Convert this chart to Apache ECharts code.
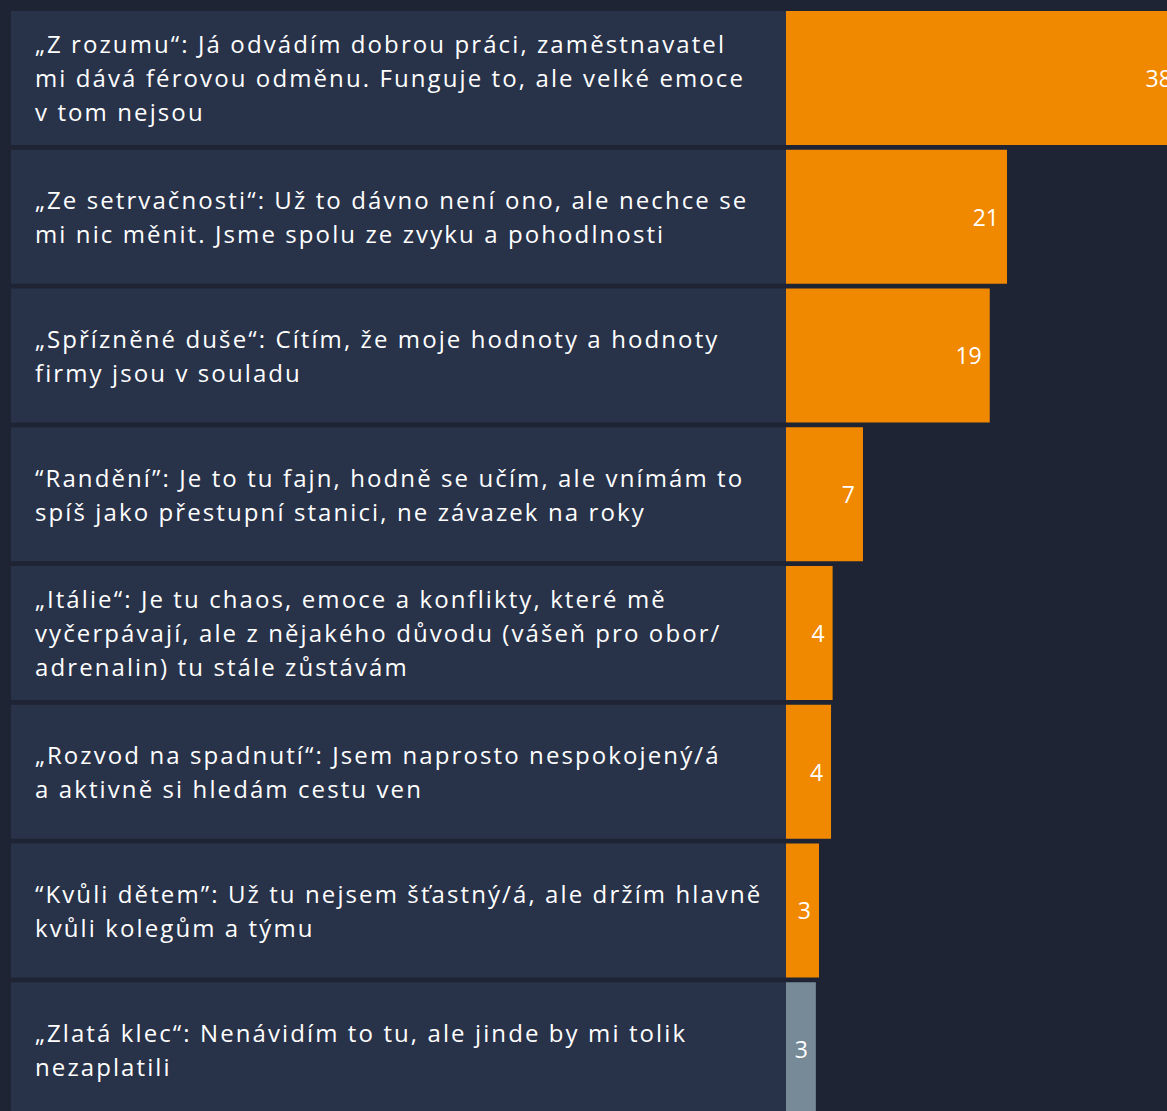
<!DOCTYPE html>
<html>
<head>
<meta charset="utf-8">
<script src="https://cdn.jsdelivr.net/npm/echarts@6/dist/echarts.min.js"></script>
<style>
  html, body { margin: 0; padding: 0; background: #1f2434; }
  #main { width: 1167px; height: 1111px; }
  /* texty v panelech jsou v předloze prostrkané */
  #main text:not([text-anchor="end"]) { letter-spacing: 2.1px; }
</style>
</head>
<body>
<div id="main"></div>
<script>
// odpovědi (zalomení řádků podle předlohy)
var categories = [
  '„Z rozumu“: Já odvádím dobrou práci, zaměstnavatel\nmi dává férovou odměnu. Funguje to, ale velké emoce\nv tom nejsou',
  '„Ze setrvačnosti“: Už to dávno není ono, ale nechce se\nmi nic měnit. Jsme spolu ze zvyku a pohodlnosti',
  '„Spřízněné duše“: Cítím, že moje hodnoty a hodnoty\nfirmy jsou v souladu',
  '“Randění”: Je to tu fajn, hodně se učím, ale vnímám to\nspíš jako přestupní stanici, ne závazek na roky',
  '„Itálie“: Je tu chaos, emoce a konflikty, které mě\nvyčerpávají, ale z nějakého důvodu (vášeň pro obor/\nadrenalin) tu stále zůstávám',
  '„Rozvod na spadnutí“: Jsem naprosto nespokojený/á\na aktivně si hledám cestu ven',
  '“Kvůli dětem”: Už tu nejsem šťastný/á, ale držím hlavně\nkvůli kolegům a týmu',
  '„Zlatá klec“: Nenávidím to tu, ale jinde by mi tolik\nnezaplatili'
];
// podíl odpovědí v %
var values = [37.6, 21.1, 19.45, 7.35, 4.45, 4.3, 3.15, 2.85];
// poslední položka je šedá
var highlight = [true, true, true, true, true, true, true, false];

var ORANGE = '#f08800';
var GREY = '#778a97';
var PANEL = '#283249';

var myChart = echarts.init(document.getElementById('main'), null, { renderer: 'svg' });

myChart.setOption({
  backgroundColor: '#1f2434',
  animation: false,
  textStyle: { fontFamily: '"Open Sans", sans-serif' },
  grid: [
    { left: 11, width: 775, top: 8.6, height: 1110, outerBoundsMode: 'none' },
    { left: 786, width: 419, top: 8.6, height: 1110, outerBoundsMode: 'none' }
  ],
  xAxis: [
    { gridIndex: 0, type: 'value', min: 0, max: 1, show: false },
    { gridIndex: 1, type: 'value', min: 0, max: 40, show: false }
  ],
  yAxis: [
    { gridIndex: 0, type: 'category', data: categories, inverse: true, show: false },
    { gridIndex: 1, type: 'category', data: categories, inverse: true, show: false }
  ],
  series: [
    {
      // panely s textem
      type: 'bar',
      xAxisIndex: 0,
      yAxisIndex: 0,
      barCategoryGap: '3.4%',
      silent: true,
      itemStyle: { color: PANEL },
      data: categories.map(function () { return 1; }),
      label: {
        show: true,
        position: 'insideLeft',
        distance: 24,
        formatter: '{b}',
        color: '#ffffff',
        fontSize: 24,
        lineHeight: 34
      }
    },
    {
      type: 'bar',
      xAxisIndex: 1,
      yAxisIndex: 1,
      barCategoryGap: '3.4%',
      clip: false,
      data: values.map(function (v, i) {
        return { value: v, itemStyle: { color: highlight[i] ? ORANGE : GREY } };
      }),
      label: {
        show: true,
        position: 'insideRight',
        distance: 8,
        color: '#ffffff',
        fontSize: 23,
        formatter: function (p) { return Math.round(p.value); }
      }
    }
  ]
});
</script>
</body>
</html>
